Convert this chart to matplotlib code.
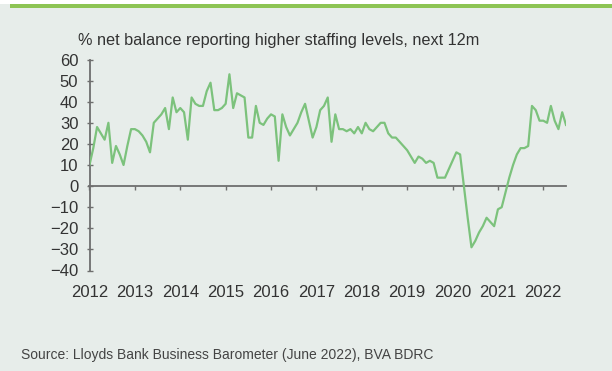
import numpy as np
import matplotlib.pyplot as plt
from matplotlib.patches import Rectangle

plt.rcParams['font.family'] = ['Liberation Sans', 'DejaVu Sans']

# monthly net balance, Jan 2012 onwards
y2012 = [10, 18, 28, 25, 22, 30, 11, 19, 15, 10, 19, 27]
y2013 = [27, 26, 24, 21, 16, 30, 32, 34, 37, 27, 42, 35]
y2014 = [37, 35, 22, 42, 39, 38, 38, 45, 49, 36, 36, 37]
y2015 = [39, 53, 37, 44, 43, 42, 23, 23, 38, 30, 29, 32]
y2016 = [34, 33, 12, 34, 28, 24, 27, 30, 35, 39, 31, 23]
y2017 = [28, 36, 38, 42, 21, 34, 27, 27, 26, 27, 25, 28]
y2018 = [25, 30, 27, 26, 28, 30, 30, 25, 23, 23, 21, 19]
y2019 = [17, 14, 11, 14, 13, 11, 12, 11, 4, 4, 4, 8]
y2020 = [12, 16, 15, 0, -15, -29, -26, -22, -19, -15, -17, -19]
y2021 = [-11, -10, -3, 4, 10, 15, 18, 18, 19, 38, 36, 31]
y2022 = [31, 30, 38, 31, 27, 35, 29]

staffing = np.array(y2012 + y2013 + y2014 + y2015 + y2016 + y2017
                    + y2018 + y2019 + y2020 + y2021 + y2022, dtype=float)
dates = 2012 + np.arange(len(staffing)) / 12.0
years = list(range(2012, 2023))
yticks = list(range(-40, 61, 10))

W, H = 612, 371
fig = plt.figure(figsize=(W / 100, H / 100), dpi=100)
fig.patch.set_facecolor('#e7edea')

# white strip and green rule across the top
fig.patches.append(Rectangle((0, 1 - 4 / H), 1, 4 / H, transform=fig.transFigure,
                             facecolor='white', edgecolor='none', zorder=0))
fig.patches.append(Rectangle((10 / W, 1 - 7.5 / H), 1, 3.5 / H, transform=fig.transFigure,
                             facecolor='#8dc454', edgecolor='none', zorder=1))

ax = fig.add_axes([89.5 / W, 1 - 270.5 / H, (566 - 89.5) / W, (270.5 - 59.5) / H])
ax.set_facecolor('none')

ax.plot(dates, staffing, color='#7cc27c', lw=1.6, solid_joinstyle='round', zorder=3)

ax.set_xlim(2012, dates[-1])
ax.set_ylim(-40, 60)
ax.set_xticks(years)
ax.set_xticklabels([str(y) for y in years])
ax.set_yticks(yticks)

for s in ['top', 'right']:
    ax.spines[s].set_visible(False)
ax.spines['bottom'].set_position(('data', 0))
for s in ['left', 'bottom']:
    ax.spines[s].set_color('#6e6e6e')
    ax.spines[s].set_linewidth(1.3)

ax.tick_params(axis='x', direction='out', length=3, width=1, color='#6e6e6e',
               pad=68, labelsize=12, labelcolor='#333333')
ax.tick_params(axis='y', direction='inout', length=4, width=1, color='#6e6e6e',
               pad=6, labelsize=12, labelcolor='#333333')

fig.text(78 / W, 1 - 41 / H, '% net balance reporting higher staffing levels, next 12m',
         fontsize=11.7, color='#333333', va='center', ha='left')
fig.text(21 / W, 1 - 355 / H, 'Source: Lloyds Bank Business Barometer (June 2022), BVA BDRC',
         fontsize=10, color='#444444', va='center', ha='left')

fig.savefig('out.png', dpi=100, facecolor=fig.get_facecolor())
